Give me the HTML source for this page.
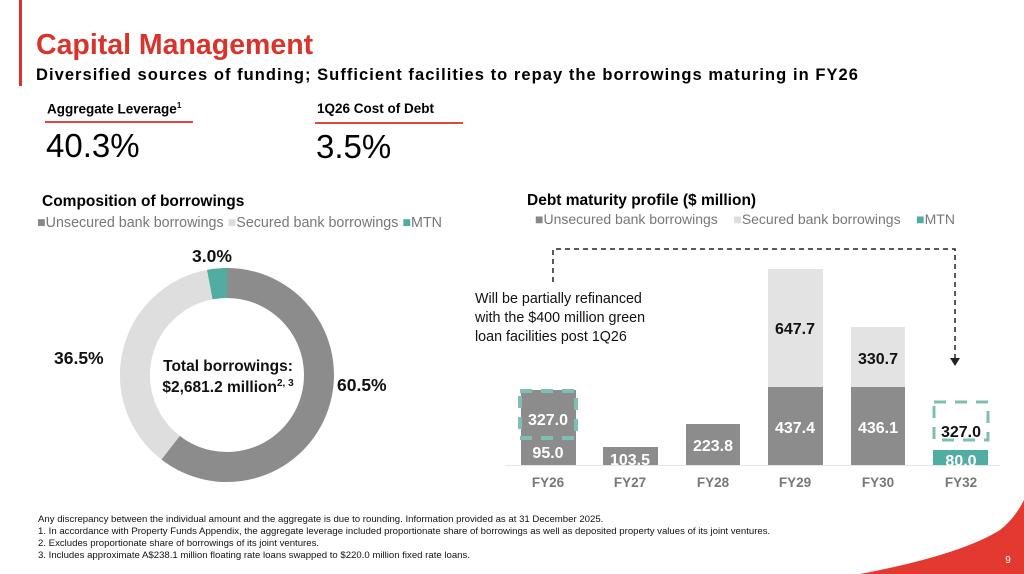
<!DOCTYPE html>
<html><head><meta charset="utf-8"><style>
body{margin:0;width:1024px;height:574px;overflow:hidden;background:#fff;font-family:"Liberation Sans",Arial,sans-serif;position:relative}
.a{position:absolute;white-space:nowrap}
</style></head><body>
<div class="a" style="left:19px;top:0;width:3px;height:86px;background:#d9342b"></div>
<div class="a" style="left:36px;top:29px;font-size:28.5px;font-weight:bold;color:#d9342b">Capital Management</div>
<div class="a" style="left:36px;top:66px;font-size:16.5px;font-weight:bold;letter-spacing:1.05px;color:#000">Diversified sources of funding; Sufficient facilities to repay the borrowings maturing in FY26</div>
<div class="a" style="left:47px;top:101px;font-size:13.5px;font-weight:bold">Aggregate Leverage<sup style="font-size:8px">1</sup></div>
<div class="a" style="left:45px;top:121px;width:148px;height:2px;background:#e0483e"></div>
<div class="a" style="left:46px;top:127px;font-size:33px">40.3%</div>
<div class="a" style="left:317px;top:101px;font-size:13.5px;font-weight:bold">1Q26 Cost of Debt</div>
<div class="a" style="left:315px;top:122px;width:148px;height:2px;background:#e0483e"></div>
<div class="a" style="left:316px;top:128px;font-size:33px">3.5%</div>

<div class="a" style="left:42px;top:193px;font-size:15.5px;font-weight:bold">Composition of borrowings</div>
<div class="a" style="left:37px;top:215px;font-size:14.3px;color:#777"><span style="color:#888">■</span>Unsecured bank borrowings <span style="color:#ddd">■</span>Secured bank borrowings <span style="color:#4fada1">■</span>MTN</div>

<div class="a" style="left:527px;top:192px;font-size:15.5px;font-weight:bold">Debt maturity profile ($ million)</div>
<div class="a" style="left:535px;top:211px;font-size:14px;color:#777"><span style="color:#888">■</span>Unsecured bank borrowings &nbsp;&nbsp;&nbsp;<span style="color:#ddd">■</span>Secured bank borrowings &nbsp;&nbsp;&nbsp;<span style="color:#4fada1">■</span>MTN</div>

<svg class="a" style="left:0;top:0" width="1024" height="574">
<g fill="none" stroke-width="30">
<path d="M227 283 A92 92 0 1 1 170.6 447.7" stroke="#8c8c8c"/>
<path d="M170.6 447.7 A92 92 0 0 1 209.8 284.6" stroke="#dedede"/>
<path d="M209.8 284.6 A92 92 0 0 1 227 283" stroke="#4fada1"/>
</g>
<g font-family="Liberation Sans,Arial,sans-serif" font-weight="bold" fill="#111">
<text x="192" y="262" font-size="17.5">3.0%</text>
<text x="54" y="364" font-size="17.5">36.5%</text>
<text x="337" y="391" font-size="17.5">60.5%</text>
<text x="228" y="371" font-size="15.5" text-anchor="middle">Total borrowings:</text>
<text x="228" y="392" font-size="15.5" text-anchor="middle">$2,681.2 million<tspan font-size="10" dy="-6">2, 3</tspan></text>
</g>
<g>
<rect x="521" y="390" width="55" height="75" fill="#8c8c8c"/>
<rect x="603" y="447" width="55" height="18" fill="#8c8c8c"/>
<rect x="686" y="424" width="54" height="41" fill="#8c8c8c"/>
<rect x="768" y="387" width="55" height="78" fill="#8c8c8c"/>
<rect x="768" y="269" width="55" height="118" fill="#e3e3e3"/>
<rect x="851" y="387" width="54" height="78" fill="#8c8c8c"/>
<rect x="851" y="327" width="54" height="60" fill="#e3e3e3"/>
<rect x="933" y="450" width="55" height="15" fill="#4fada1"/>
<line x1="505" y1="465.5" x2="1000" y2="465.5" stroke="#e6e6e6"/>
<rect x="520" y="391" width="56" height="47" fill="none" stroke="#7fbfb3" stroke-width="4" stroke-dasharray="12 9"/>
<rect x="934" y="402" width="54" height="38" fill="none" stroke="#7fbfb3" stroke-width="3" stroke-dasharray="12 9"/>
<path d="M553 282 V249 H955 V358" fill="none" stroke="#222" stroke-width="1.5" stroke-dasharray="5 4"/>
<path d="M950 358 L960 358 L955 366Z" fill="#222"/>
</g>
<g font-family="Liberation Sans,Arial,sans-serif" font-weight="bold" font-size="16" text-anchor="middle">
<text x="548" y="425" fill="#fff">327.0</text>
<text x="548" y="458" fill="#fff">95.0</text>
<text x="630" y="465" fill="#fff">103.5</text>
<text x="713" y="451" fill="#fff">223.8</text>
<text x="795" y="433" fill="#fff">437.4</text>
<text x="878" y="433" fill="#fff">436.1</text>
<text x="795" y="334" fill="#111">647.7</text>
<text x="878" y="364" fill="#111">330.7</text>
<text x="961" y="437" fill="#111">327.0</text>
<text x="961" y="466" fill="#fff">80.0</text>
<g fill="#777" font-size="13.5">
<text x="548" y="487">FY26</text><text x="630" y="487">FY27</text><text x="713" y="487">FY28</text>
<text x="795" y="487">FY29</text><text x="878" y="487">FY30</text><text x="961" y="487">FY32</text>
</g>
</g>
<g font-family="Liberation Sans,Arial,sans-serif" font-size="14.3" fill="#111">
<text x="475" y="303">Will be partially refinanced</text>
<text x="475" y="322">with the $400 million green</text>
<text x="475" y="341">loan facilities post 1Q26</text>
</g>
<path d="M890 574 Q950 560 990 540 Q1010 530 1024 505 V574Z" fill="#e5e5e5"/>
<path d="M860 574 Q960 555 1000 530 Q1015 518 1024 500 V574Z" fill="#e23a30"/>
<text x="1008" y="563" font-family="Liberation Sans,Arial,sans-serif" font-size="10" fill="#fff" text-anchor="middle">9</text>
</svg>
<div class="a" style="left:38px;top:514px;font-size:9.6px;line-height:12px;color:#111">Any discrepancy between the individual amount and the aggregate is due to rounding. Information provided as at 31 December 2025.<br>1. In accordance with Property Funds Appendix, the aggregate leverage included proportionate share of borrowings as well as deposited property values of its joint ventures.<br>2. Excludes proportionate share of borrowings of its joint ventures.<br>3. Includes approximate A$238.1 million floating rate loans swapped to $220.0 million fixed rate loans.</div>
</body></html>
